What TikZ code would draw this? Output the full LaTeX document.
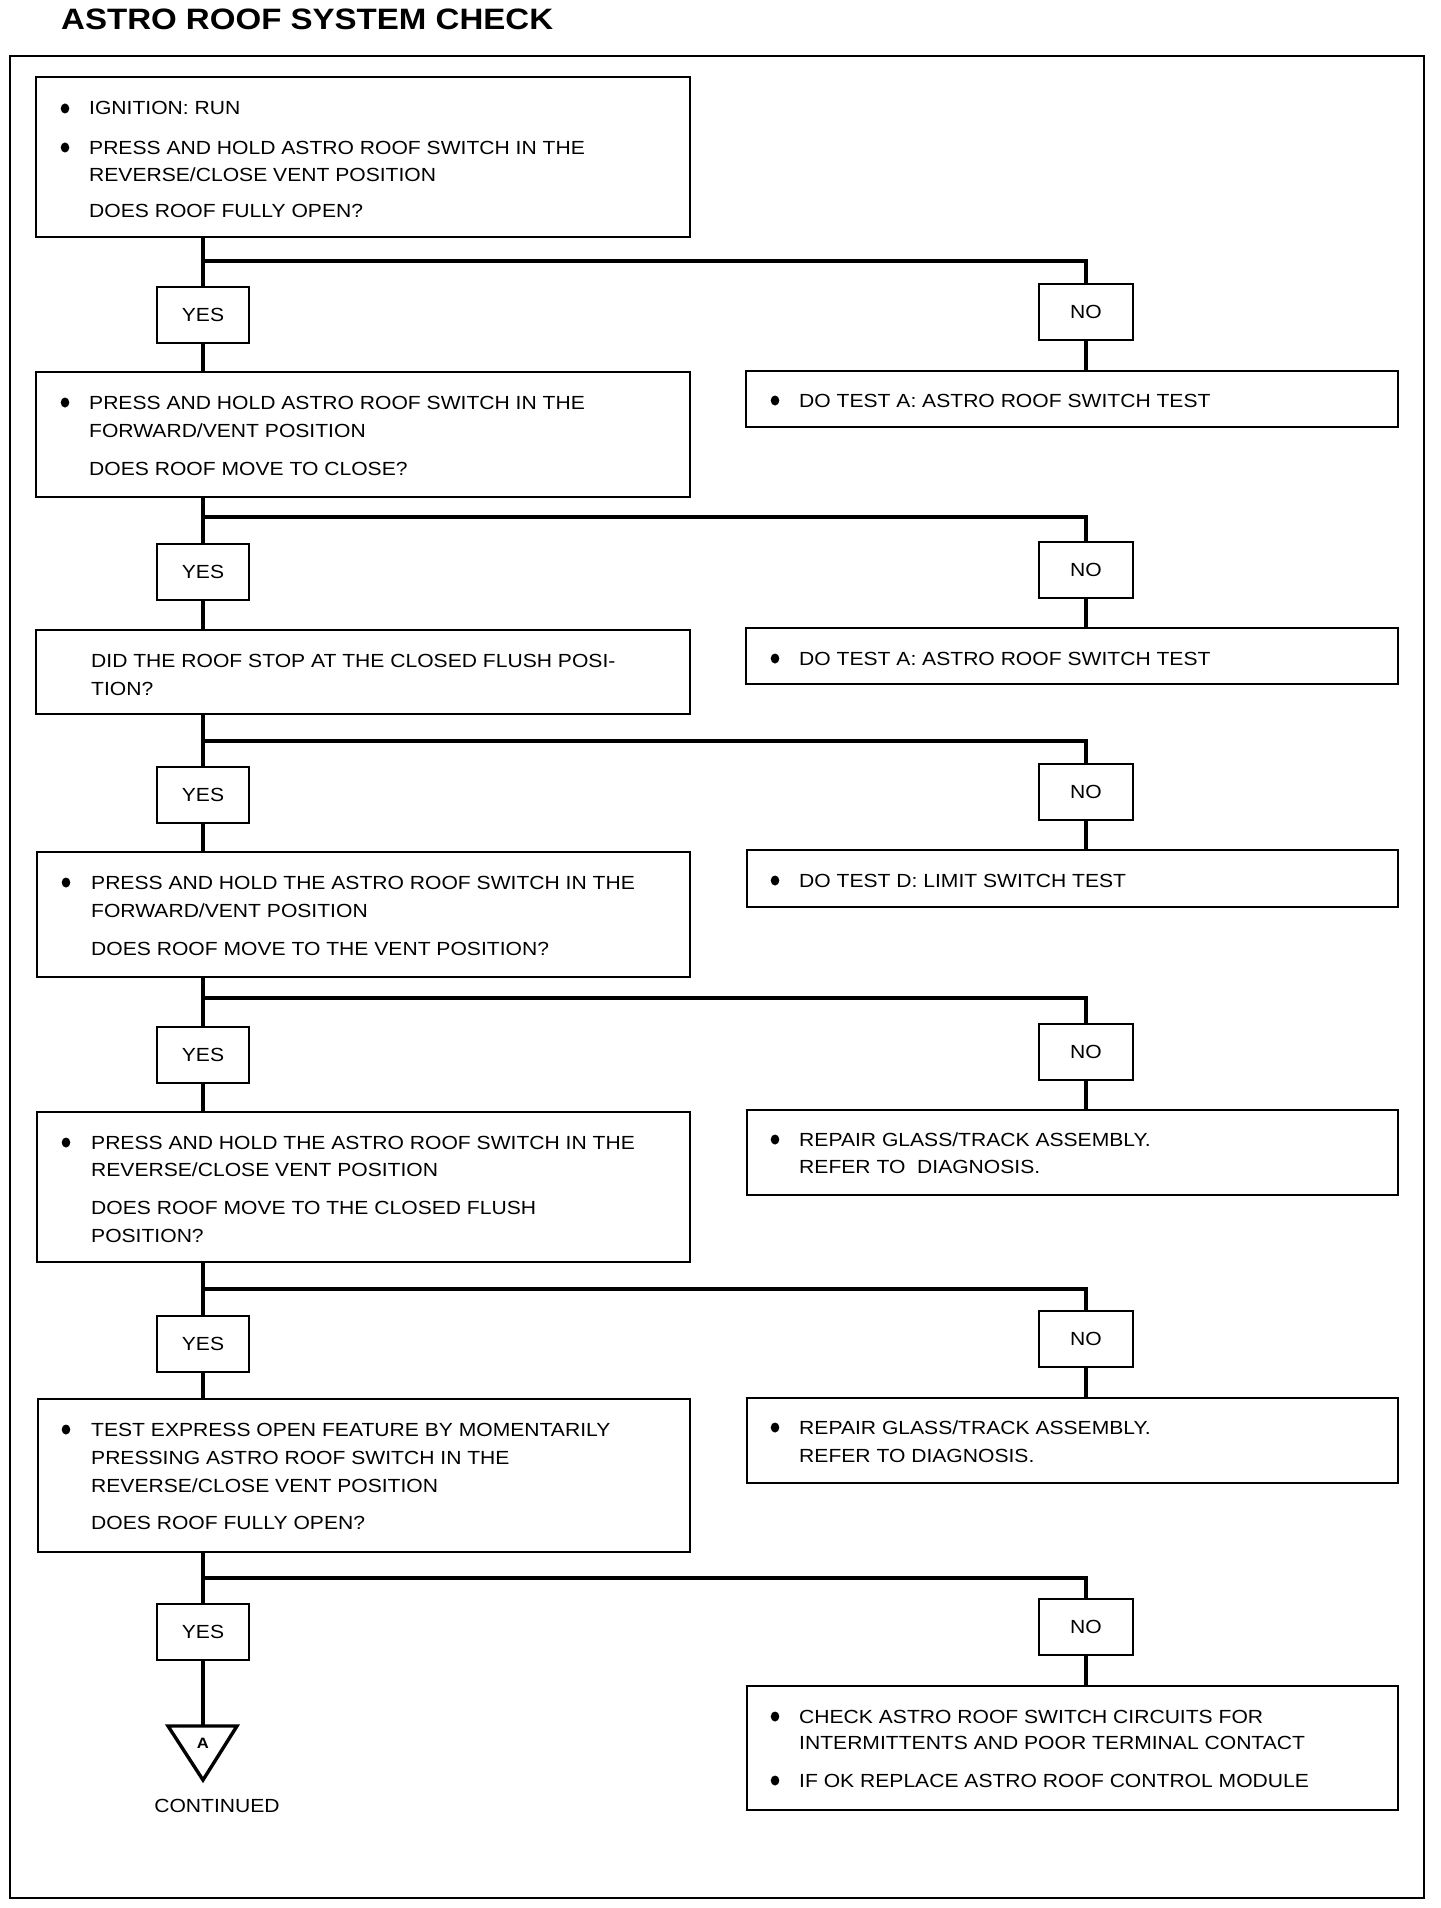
\documentclass[tikz,border=0pt]{standalone}
\usepackage{fontspec}
\setmainfont{Liberation Sans}
\newfontfamily\bodyf[FakeStretch=1.11]{Liberation Sans}
\newfontfamily\titlef[FakeStretch=1.12]{Liberation Sans}
\newcounter{tln}
\newcommand\mkbox[5]{\node[box, minimum width={#4-#2}, minimum height={#5-#3}] (#1) at ({(#2+#4)/2},{(#3+#5)/2}) {};}
\newcommand\tx[3]{\stepcounter{tln}\node[txt] (t\arabic{tln}) at (#1,#2) {#3};}
\newcommand\bul[2]{\fill (#1,#2-6.5) ellipse [x radius=4.3, y radius=5];}
\begin{document}
\begin{tikzpicture}[x=1pt,y=-1pt,
  every node/.style={font=\bodyf\fontsize{19}{23}\selectfont},
  box/.style={draw, line width=2.4pt, inner sep=0pt},
  yn/.style={draw, line width=2.4pt, inner sep=0pt, minimum height=56},
  txt/.style={anchor=base west, inner sep=0pt},
  conn/.style={line width=4pt},
  frame/.style={line width=2.2pt},
  tri/.style={line width=3.4pt, line join=miter}]
\useasboundingbox (0,0) rectangle (1440,1908);
% title
\node[anchor=base west, inner sep=0pt, font=\titlef\bfseries\fontsize{29.5}{34}\selectfont] (title) at (61,30) {ASTRO ROOF SYSTEM CHECK};
% outer frame
\draw[frame] (10,56) rectangle (1424,1898);
% left boxes
\mkbox{L1}{36}{77}{690}{237}
\mkbox{L2}{36}{372}{690}{497}
\mkbox{L3}{36}{630}{690}{714}
\mkbox{L4}{37}{852}{690}{977}
\mkbox{L5}{37}{1112}{690}{1262}
\mkbox{L6}{38}{1399}{690}{1552}
% right boxes
\mkbox{R1}{746}{371}{1398}{427}
\mkbox{R2}{746}{628}{1398}{684}
\mkbox{R3}{747}{850}{1398}{907}
\mkbox{R4}{747}{1110}{1398}{1195}
\mkbox{R5}{747}{1398}{1398}{1483}
\mkbox{R6}{747}{1686}{1398}{1810}
% YES boxes
\node[yn, minimum width=92] (Y1) at (203,315) {YES};
\node[yn, minimum width=92] (Y2) at (203,572) {YES};
\node[yn, minimum width=92] (Y3) at (203,795) {YES};
\node[yn, minimum width=92] (Y4) at (203,1055) {YES};
\node[yn, minimum width=92] (Y5) at (203,1344) {YES};
\node[yn, minimum width=92] (Y6) at (203,1632) {YES};
% NO boxes
\node[yn, minimum width=94] (N1) at (1086,312) {NO};
\node[yn, minimum width=94] (N2) at (1086,570) {NO};
\node[yn, minimum width=94] (N3) at (1086,792) {NO};
\node[yn, minimum width=94] (N4) at (1086,1052) {NO};
\node[yn, minimum width=94] (N5) at (1086,1339) {NO};
\node[yn, minimum width=94] (N6) at (1086,1627) {NO};
% branch points
\coordinate (h1) at (203,261);
\coordinate (h2) at (203,517);
\coordinate (h3) at (203,741);
\coordinate (h4) at (203,998);
\coordinate (h5) at (203,1289);
\coordinate (h6) at (203,1578);
% connectors
\foreach \i/\j in {1/2,2/3,3/4,4/5,5/6}{
  \draw[conn] (L\i.south -| Y\i.north) -- (Y\i.north);
  \draw[conn] (h\i) -| (N\i.north);
  \draw[conn] (N\i.south) -- (N\i.south |- R\i.north);
  \draw[conn] (Y\i.south) -- (Y\i.south |- L\j.north);
}
\draw[conn] (L6.south -| Y6.north) -- (Y6.north);
\draw[conn] (h6) -| (N6.north);
\draw[conn] (N6.south) -- (N6.south |- R6.north);
% off-page connector
\coordinate (tritop) at (203,1726);
\draw[conn] (Y6.south) -- (tritop);
\draw[tri] (168,1726) -- (237,1726) -- (203,1780) -- cycle;
\node[inner sep=0pt, font=\bodyf\bfseries\fontsize{15}{17}\selectfont] (Aconn) at (203,1743) {A};
\node[anchor=base, inner sep=0pt] (cont) at (217,1812) {CONTINUED};
% texts left
\bul{65}{115}\tx{89}{115}{IGNITION: RUN}
\bul{65}{154}\tx{89}{154}{PRESS AND HOLD ASTRO ROOF SWITCH IN THE}
\tx{89}{181}{REVERSE/CLOSE VENT POSITION}
\tx{89}{217}{DOES ROOF FULLY OPEN?}

\bul{65}{409}\tx{89}{409}{PRESS AND HOLD ASTRO ROOF SWITCH IN THE}
\tx{89}{437}{FORWARD/VENT POSITION}
\tx{89}{475}{DOES ROOF MOVE TO CLOSE?}

\tx{91}{667}{DID THE ROOF STOP AT THE CLOSED FLUSH POSI-}
\tx{91}{695}{TION?}

\bul{66}{889}\tx{91}{889}{PRESS AND HOLD THE ASTRO ROOF SWITCH IN THE}
\tx{91}{917}{FORWARD/VENT POSITION}
\tx{91}{955}{DOES ROOF MOVE TO THE VENT POSITION?}

\bul{66}{1149}\tx{91}{1149}{PRESS AND HOLD THE ASTRO ROOF SWITCH IN THE}
\tx{91}{1176}{REVERSE/CLOSE VENT POSITION}
\tx{91}{1214}{DOES ROOF MOVE TO THE CLOSED FLUSH}
\tx{91}{1242}{POSITION?}

\bul{66}{1436}\tx{91}{1436}{TEST EXPRESS OPEN FEATURE BY MOMENTARILY}
\tx{91}{1464}{PRESSING ASTRO ROOF SWITCH IN THE}
\tx{91}{1492}{REVERSE/CLOSE VENT POSITION}
\tx{91}{1529}{DOES ROOF FULLY OPEN?}
% texts right
\bul{775}{407}\tx{799}{407}{DO TEST A: ASTRO ROOF SWITCH TEST}
\bul{775}{665}\tx{799}{665}{DO TEST A: ASTRO ROOF SWITCH TEST}
\bul{775}{887}\tx{799}{887}{DO TEST D: LIMIT SWITCH TEST}
\bul{775}{1146}\tx{799}{1146}{REPAIR GLASS/TRACK ASSEMBLY.}
\tx{799}{1173}{REFER TO~ DIAGNOSIS.}
\bul{775}{1434}\tx{799}{1434}{REPAIR GLASS/TRACK ASSEMBLY.}
\tx{799}{1462}{REFER TO DIAGNOSIS.}
\bul{775}{1723}\tx{799}{1723}{CHECK ASTRO ROOF SWITCH CIRCUITS FOR}
\tx{799}{1749}{INTERMITTENTS AND POOR TERMINAL CONTACT}
\bul{775}{1787}\tx{799}{1787}{IF OK REPLACE ASTRO ROOF CONTROL MODULE}
\end{tikzpicture}
\end{document}
